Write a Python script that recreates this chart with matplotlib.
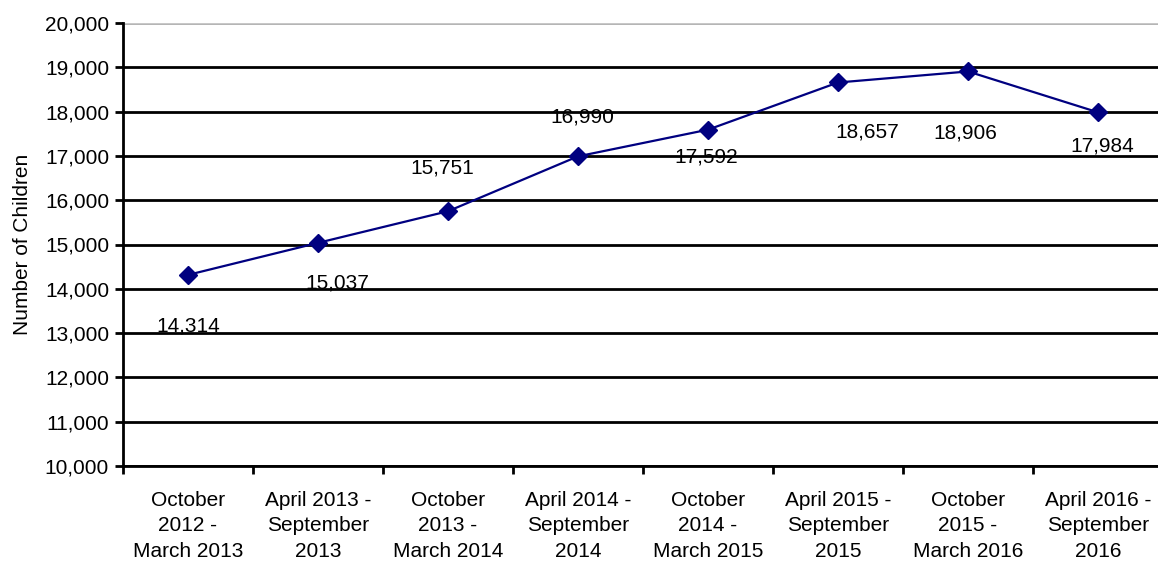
import matplotlib.pyplot as plt

plt.rcParams['font.family'] = ['Liberation Sans', 'DejaVu Sans']

periods = ['October\n2012 -\nMarch 2013', 'April 2013 -\nSeptember\n2013',
           'October\n2013 -\nMarch 2014', 'April 2014 -\nSeptember\n2014',
           'October\n2014 -\nMarch 2015', 'April 2015 -\nSeptember\n2015',
           'October\n2015 -\nMarch 2016', 'April 2016 -\nSeptember\n2016']
children = [14314, 15037, 15751, 16990, 17592, 18657, 18906, 17984]
# label offsets in points (dx, dy) as placed in the original chart
label_offsets = [(0, -37), (14, -29), (-4, 31), (3, 28), (-1, -20), (21, -36), (-2, -44), (3, -24)]

fig = plt.figure(figsize=(11.58, 5.61), dpi=100)
ax = fig.add_axes([123 / 1158, 95 / 561, 1040 / 1158, 443 / 561])

x = list(range(len(children)))
ax.plot(x, children, color='#000080', linewidth=1.6, marker='D', markersize=9.5, zorder=3)

for xi, v, (dx, dy) in zip(x, children, label_offsets):
    ax.annotate(f'{v:,}', (xi, v), xytext=(dx, dy), textcoords='offset points',
                ha='center', va='center', fontsize=15)

ax.set_xlim(-0.5, len(children) - 0.5)
ax.set_ylim(10000, 20000)
ax.set_yticks(range(10000, 20001, 1000))
ax.set_yticklabels([f'{t:,}' for t in range(10000, 20001, 1000)], fontsize=15)
ax.set_xticks(x)
ax.set_xticklabels(periods, fontsize=15, linespacing=1.42)
ax.set_xticks([i - 0.5 for i in range(len(children) + 1)], minor=True)
ax.tick_params(axis='x', which='major', length=0, pad=18)
ax.tick_params(axis='x', which='minor', length=6, width=2)
ax.tick_params(axis='y', length=6, width=2, pad=4)

ax.grid(axis='y', color='black', linewidth=2)
ax.set_axisbelow(True)
for side in ['top', 'right']:
    ax.spines[side].set_visible(False)
ax.spines['left'].set_linewidth(2)
ax.spines['bottom'].set_linewidth(2)
ax.axhline(20000, color='#c8c8c8', linewidth=2, zorder=2)

ax.set_ylabel('Number of Children', fontsize=15, labelpad=9)

fig.savefig('out.png', dpi=100)
